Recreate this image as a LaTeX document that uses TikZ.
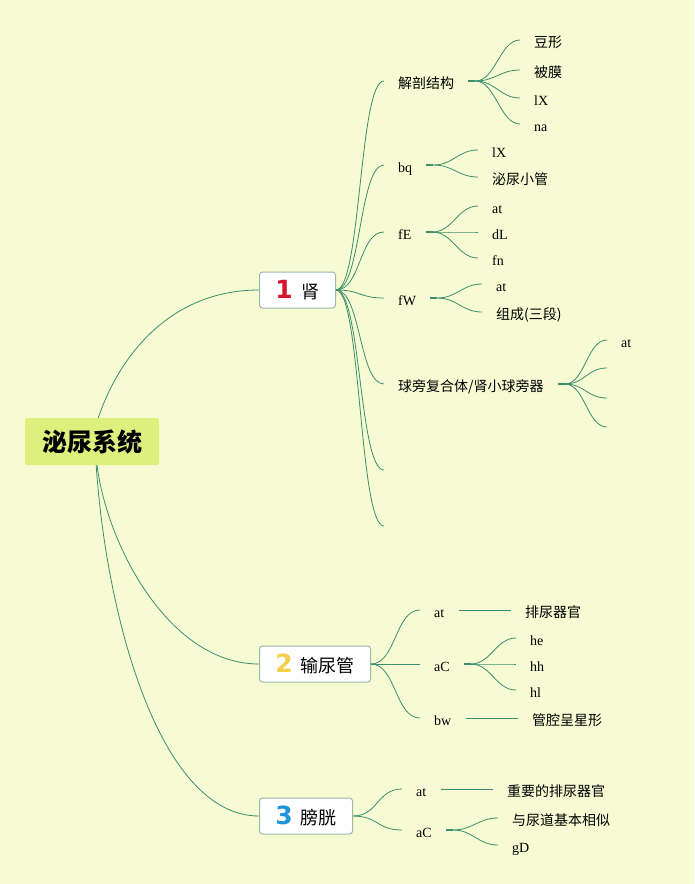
\documentclass[tikz,border=0pt]{standalone}
\usepackage{fontspec}
\setmainfont{Liberation Serif}
\newfontfamily\cjk{Noto Sans CJK SC}
\newfontfamily\numfont{DejaVu Sans}
\usepackage{tikz}
\usetikzlibrary{shapes, positioning}

\definecolor{bg}{HTML}{F7FBD3}
\definecolor{rootc}{HTML}{DDEF7C}
\definecolor{lc}{HTML}{3C8F6C}
\definecolor{boxc}{HTML}{9DB8A6}
\definecolor{n1}{HTML}{D7132D}
\definecolor{n2}{HTML}{F2D04A}
\definecolor{n3}{HTML}{2196DF}
\newcommand{\nbadge}[2]{{\numfont\bfseries\fontsize{25}{27}\selectfont\color{#1}#2}}

\begin{document}
\begin{tikzpicture}[x=1pt, y=-1pt]
        \tikzstyle{every node}=[align=center]
        \tikzstyle{link}=[draw=lc, line width=0.8pt]
        \tikzstyle{stub}=[draw=lc, line width=2.2pt]
        \tikzstyle{root}=[fill=rootc, rounded corners=2pt, minimum width=134pt, minimum height=47pt, font=\cjk\bfseries\fontsize{25}{28}\selectfont]
        \tikzstyle{mainbox}=[draw=boxc, fill=white, rounded corners=3pt, line width=1pt, minimum height=36pt, inner xsep=0pt, anchor=west, font=\cjk\fontsize{18}{20}\selectfont]
        \tikzstyle{topic}=[anchor=west, inner xsep=14pt, inner ysep=0pt, text height=14pt, text depth=0pt, font=\fontsize{14}{16}\selectfont]

        \fill[bg] (0,0) rectangle (694,884);
        \useasboundingbox (0,0) rectangle (694,884);

        \node at (92, 441.5) [root] (root) {泌尿系统};

        \node at (259, 290) [mainbox, minimum width=76pt] (shen) {\nbadge{n1}{1}\hspace{9pt}肾};
        \node at (259, 664) [mainbox, minimum width=111pt] (sng) {\nbadge{n2}{2}\hspace{8pt}输尿管};
        \node at (259, 816) [mainbox, minimum width=93pt] (pg) {\nbadge{n3}{3}\hspace{8pt}膀胱};

        \draw[link] (root.75) .. controls +(20,-60) and +(-90,0) .. (shen.west);
        \draw[link] (root.-78) .. controls +(10,80) and +(-90,0) .. (sng.west);
        \draw[link] (root.-80) .. controls +(10,150) and +(-100,0) .. (pg.west);

        % 肾
        \node at (384, 81) [topic] (jp) {\cjk 解剖结构};
        \node at (384, 165) [topic] (bq) {bq};
        \node at (384, 232) [topic] (fE) {fE};
        \node at (384, 298) [topic] (fW) {fW};
        \node at (384, 384) [topic] (qp) {\cjk 球旁复合体/肾小球旁器};
        \coordinate (e1) at (384, 470);
        \coordinate (e2) at (384, 526);

        \foreach \n in {jp.west, bq.west, fE.west, fW.west, qp.west, e1, e2}
            \draw[link] (shen.east) .. controls +(25,0) and +(-25,0) .. (\n);

        \node at (520, 40) [topic] (jp1) {\cjk 豆形};
        \node at (520, 70) [topic] (jp2) {\cjk 被膜};
        \node at (520, 98) [topic] (jp3) {lX};
        \node at (520, 124) [topic] (jp4) {na};

        \node at (478, 150) [topic] (bq1) {lX};
        \node at (478, 177) [topic] (bq2) {\cjk 泌尿小管};

        \node at (478, 206) [topic] (fE1) {at};
        \node at (478, 232) [topic] (fE2) {dL};
        \node at (478, 258) [topic] (fE3) {fn};

        \node at (482, 284) [topic] (fW1) {at};
        \node at (482, 312) [topic] (fW2) {\cjk 组成(三段)};

        \node at (607, 340) [topic] (qp1) {at};
        \coordinate (qp2) at (607, 368);
        \coordinate (qp3) at (607, 398);
        \coordinate (qp4) at (607, 427);

        \draw[stub] (jp.east) -- ++(7,0) coordinate (jph);
        \draw[stub] (bq.east) -- ++(7,0) coordinate (bqh);
        \draw[stub] (fE.east) -- ++(7,0) coordinate (fEh);
        \draw[stub] (fW.east) -- ++(7,0) coordinate (fWh);
        \draw[stub] (qp.east) -- ++(7,0) coordinate (qph);

        \foreach \n in {jp1.west, jp2.west, jp3.west, jp4.west}
            \draw[link] (jph) .. controls +(20,0) and +(-20,0) .. (\n);
        \foreach \n in {bq1.west, bq2.west}
            \draw[link] (bqh) .. controls +(20,0) and +(-20,0) .. (\n);
        \foreach \n in {fE1.west, fE2.west, fE3.west}
            \draw[link] (fEh) .. controls +(20,0) and +(-20,0) .. (\n);
        \foreach \n in {fW1.west, fW2.west}
            \draw[link] (fWh) .. controls +(20,0) and +(-20,0) .. (\n);
        \foreach \n in {qp1.west, qp2, qp3, qp4}
            \draw[link] (qph) .. controls +(20,0) and +(-20,0) .. (\n);

        % 输尿管
        \node at (420, 610) [topic] (s1) {at};
        \node at (420, 664) [topic] (s2) {aC};
        \node at (420, 718) [topic] (s3) {bw};
        \foreach \n in {s1, s2, s3}
            \draw[link] (sng.east) .. controls +(25,0) and +(-25,0) .. (\n.west);

        \node at (511, 610) [topic] (s11) {\cjk 排尿器官};
        \node at (516, 638) [topic] (s21) {he};
        \node at (516, 664) [topic] (s22) {hh};
        \node at (516, 690) [topic] (s23) {hl};
        \node at (518, 718) [topic] (s31) {\cjk 管腔呈星形};

        \draw[link] (s1.east) -- (s11.west);
        \draw[link] (s3.east) -- (s31.west);
        \draw[stub] (s2.east) -- ++(7,0) coordinate (s2h);
        \foreach \n in {s21, s22, s23}
            \draw[link] (s2h) .. controls +(20,0) and +(-20,0) .. (\n.west);

        % 膀胱
        \node at (402, 789) [topic] (p1) {at};
        \node at (402, 830) [topic] (p2) {aC};
        \foreach \n in {p1, p2}
            \draw[link] (pg.east) .. controls +(25,0) and +(-25,0) .. (\n.west);

        \node at (493, 789) [topic] (p11) {\cjk 重要的排尿器官};
        \node at (498, 818) [topic] (p21) {\cjk 与尿道基本相似};
        \node at (498, 845) [topic] (p22) {gD};

        \draw[link] (p1.east) -- (p11.west);
        \draw[stub] (p2.east) -- ++(7,0) coordinate (p2h);
        \foreach \n in {p21, p22}
            \draw[link] (p2h) .. controls +(20,0) and +(-20,0) .. (\n.west);
\end{tikzpicture}
\end{document}
